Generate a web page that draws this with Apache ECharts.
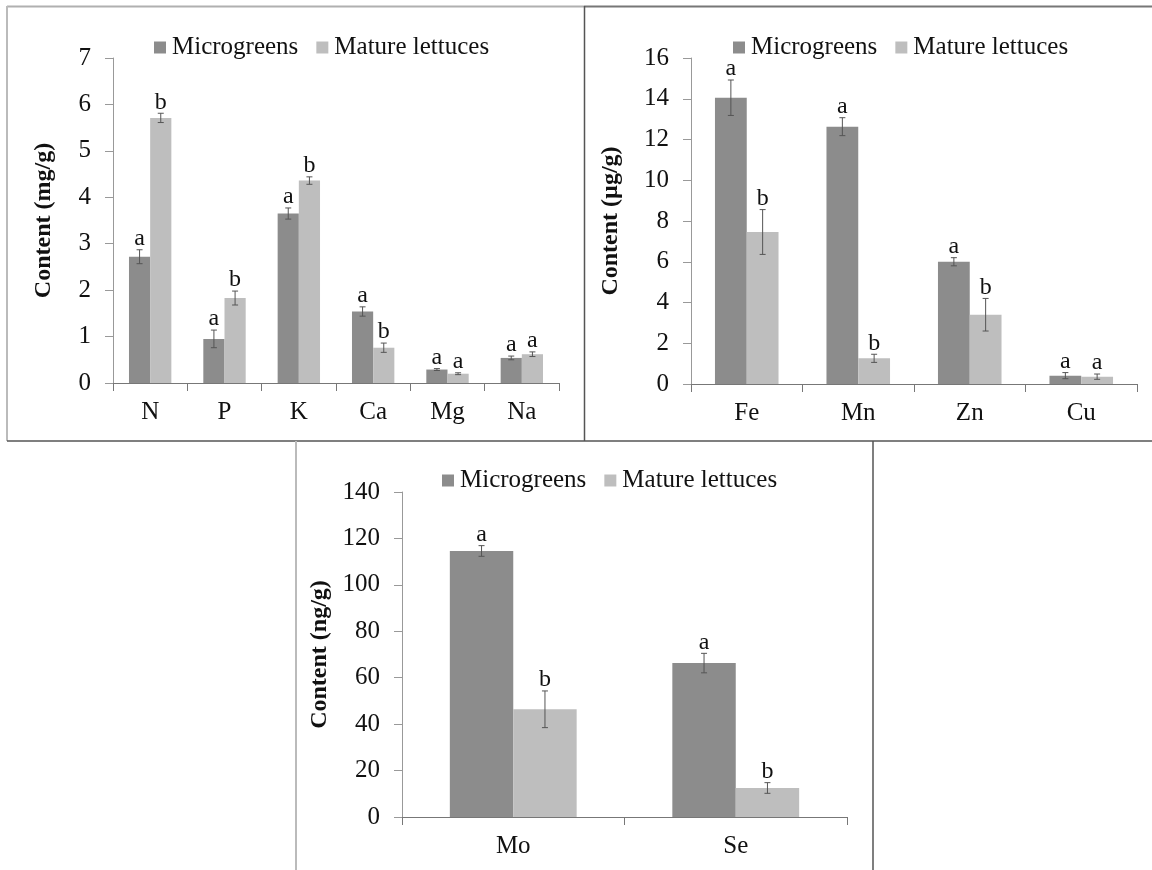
<!DOCTYPE html>
<html>
<head>
<meta charset="utf-8">
<script src="https://cdn.jsdelivr.net/npm/echarts@6/dist/echarts.min.js"></script>
<style>
html,body{margin:0;padding:0;background:#fff;}
#c{width:1152px;height:870px;}
</style>
</head>
<body>
<div id="c"></div>
<script>
// ---- Data ----
const seriesNames = ['Microgreens', 'Mature lettuces'];

const cats1 = ['N', 'P', 'K', 'Ca', 'Mg', 'Na'];
const micro1 = [2.72, 0.95, 3.65, 1.54, 0.29, 0.54];
const micro1Err = [0.15, 0.19, 0.12, 0.10, 0.02, 0.04];
const micro1Letters = ['a', 'a', 'a', 'a', 'a', 'a'];
const mature1 = [5.71, 1.83, 4.36, 0.76, 0.20, 0.62];
const mature1Err = [0.10, 0.15, 0.08, 0.10, 0.02, 0.05];
const mature1Letters = ['b', 'b', 'b', 'b', 'a', 'a'];

const cats2 = ['Fe', 'Mn', 'Zn', 'Cu'];
const micro2 = [14.05, 12.63, 6.0, 0.41];
const micro2Err = [0.87, 0.44, 0.2, 0.15];
const micro2Letters = ['a', 'a', 'a', 'a'];
const mature2 = [7.46, 1.26, 3.40, 0.36];
const mature2Err = [1.10, 0.20, 0.80, 0.13];
const mature2Letters = ['b', 'b', 'b', 'a'];

const cats3 = ['Mo', 'Se'];
const micro3 = [114.6, 66.3];
const micro3Err = [2.3, 4.2];
const micro3Letters = ['a', 'a'];
const mature3 = [46.4, 12.5];
const mature3Err = [7.9, 2.3];
const mature3Letters = ['b', 'b'];

const yTicks1 = {min: 0, max: 7, interval: 1};
const yTicks2 = {min: 0, max: 16, interval: 2};
const yTicks3 = {min: 0, max: 140, interval: 20};

// ---- Styles ----
const FONT = '"Liberation Serif", "Times New Roman", serif';
const DARK = '#8c8c8c';
const LIGHT = '#bebebe';
const CAT_GAP = 0.43;

const panels = [
  {cats: cats1, m: micro1, me: micro1Err, ml: micro1Letters, t: mature1, te: mature1Err, tl: mature1Letters,
   y: yTicks1, name: 'Content (mg/g)', grid: {left: 113, top: 58, width: 446, height: 325}, nameGap: 57, legend: {left: 149, top: 30}},
  {cats: cats2, m: micro2, me: micro2Err, ml: micro2Letters, t: mature2, te: mature2Err, tl: mature2Letters,
   y: yTicks2, name: 'Content (µg/g)', grid: {left: 691, top: 58, width: 446, height: 326}, nameGap: 68, legend: {left: 728, top: 30}},
  {cats: cats3, m: micro3, me: micro3Err, ml: micro3Letters, t: mature3, te: mature3Err, tl: mature3Letters,
   y: yTicks3, name: 'Content (ng/g)', grid: {left: 402, top: 492, width: 445, height: 325}, nameGap: 70, legend: {left: 437, top: 463}}
];

function errSeries(idx, vals, errs, letters, side) {
  return {
    type: 'custom',
    xAxisIndex: idx, yAxisIndex: idx,
    z: 5,
    silent: true,
    data: vals.map((v, i) => [i, v, errs[i]]),
    encode: {x: 0, y: 1},
    renderItem: function (params, api) {
      const i = api.value(0), v = api.value(1), e = api.value(2);
      const catW = api.size([1, 0])[0];
      const bw = catW * (1 - CAT_GAP) / 2;
      const top = api.coord([i, v + e]);
      const bot = api.coord([i, v - e]);
      const x = top[0] + side * bw / 2;
      const cap = 3;
      const ls = {stroke: '#555', lineWidth: 1};
      return {
        type: 'group',
        children: [
          {type: 'line', shape: {x1: x, y1: top[1], x2: x, y2: bot[1]}, style: ls},
          {type: 'line', shape: {x1: x - cap, y1: top[1], x2: x + cap, y2: top[1]}, style: ls},
          {type: 'line', shape: {x1: x - cap, y1: bot[1], x2: x + cap, y2: bot[1]}, style: ls},
          {type: 'text', style: {text: letters[params.dataIndex], x: x, y: top[1] + 1,
            align: 'center', verticalAlign: 'bottom', fontSize: 24, fontFamily: FONT, fill: '#111'}}
        ]
      };
    }
  };
}

const option = {
  animation: false,
  backgroundColor: '#fff',
  grid: [], xAxis: [], yAxis: [], series: [], legend: [],
  graphic: [
    {type: 'line', shape: {x1: 7, y1: 6.5, x2: 584, y2: 6.5}, style: {stroke: '#b0b0b0', lineWidth: 2}},
    {type: 'line', shape: {x1: 584, y1: 6.5, x2: 1152, y2: 6.5}, style: {stroke: '#777', lineWidth: 2}},
    {type: 'line', shape: {x1: 7, y1: 6, x2: 7, y2: 441}, style: {stroke: '#bbb', lineWidth: 2}},
    {type: 'line', shape: {x1: 584.5, y1: 6, x2: 584.5, y2: 441}, style: {stroke: '#555', lineWidth: 1.5}},
    {type: 'line', shape: {x1: 7, y1: 441, x2: 1152, y2: 441}, style: {stroke: '#555', lineWidth: 1.5}},
    {type: 'line', shape: {x1: 296, y1: 441, x2: 296, y2: 870}, style: {stroke: '#bbb', lineWidth: 2}},
    {type: 'line', shape: {x1: 873, y1: 441, x2: 873, y2: 870}, style: {stroke: '#555', lineWidth: 1.5}}
  ]
};

panels.forEach((p, idx) => {
  option.grid.push(Object.assign({containLabel: false}, p.grid));
  option.xAxis.push({
    type: 'category', gridIndex: idx, data: p.cats,
    axisLine: {lineStyle: {color: '#777', width: 1}},
    axisTick: {show: true, length: 8, lineStyle: {color: '#777'}},
    axisLabel: {fontSize: 25, fontFamily: FONT, color: '#111', margin: 17},
    splitLine: {show: false}
  });
  option.yAxis.push({
    type: 'value', gridIndex: idx, min: p.y.min, max: p.y.max, interval: p.y.interval,
    name: p.name, nameLocation: 'middle', nameGap: p.nameGap,
    nameTextStyle: {fontSize: 24, fontWeight: 'bold', fontFamily: FONT, color: '#111'},
    axisLine: {show: true, lineStyle: {color: '#999', width: 1}},
    axisTick: {show: true, length: 8, lineStyle: {color: '#999'}},
    axisLabel: {fontSize: 25, fontFamily: FONT, color: '#111', margin: 22},
    splitLine: {show: false}
  });
  option.series.push({
    name: seriesNames[0], type: 'bar', xAxisIndex: idx, yAxisIndex: idx,
    data: p.m, itemStyle: {color: DARK}, barGap: '0%', barCategoryGap: (CAT_GAP * 100) + '%'
  });
  option.series.push({
    name: seriesNames[1], type: 'bar', xAxisIndex: idx, yAxisIndex: idx,
    data: p.t, itemStyle: {color: LIGHT}, barGap: '0%', barCategoryGap: (CAT_GAP * 100) + '%'
  });
  option.series.push(errSeries(idx, p.m, p.me, p.ml, -1));
  option.series.push(errSeries(idx, p.t, p.te, p.tl, 1));
  option.legend.push({
    data: seriesNames, left: p.legend.left, top: p.legend.top,
    icon: 'rect', itemWidth: 12, itemHeight: 12, itemGap: 18,
    selectedMode: false,
    textStyle: {fontSize: 25, fontFamily: FONT, color: '#111', padding: [0, 0, 0, 1]}
  });
});

const chart = echarts.init(document.getElementById('c'), null, {renderer: 'canvas'});
chart.setOption(option);
</script>
</body>
</html>
